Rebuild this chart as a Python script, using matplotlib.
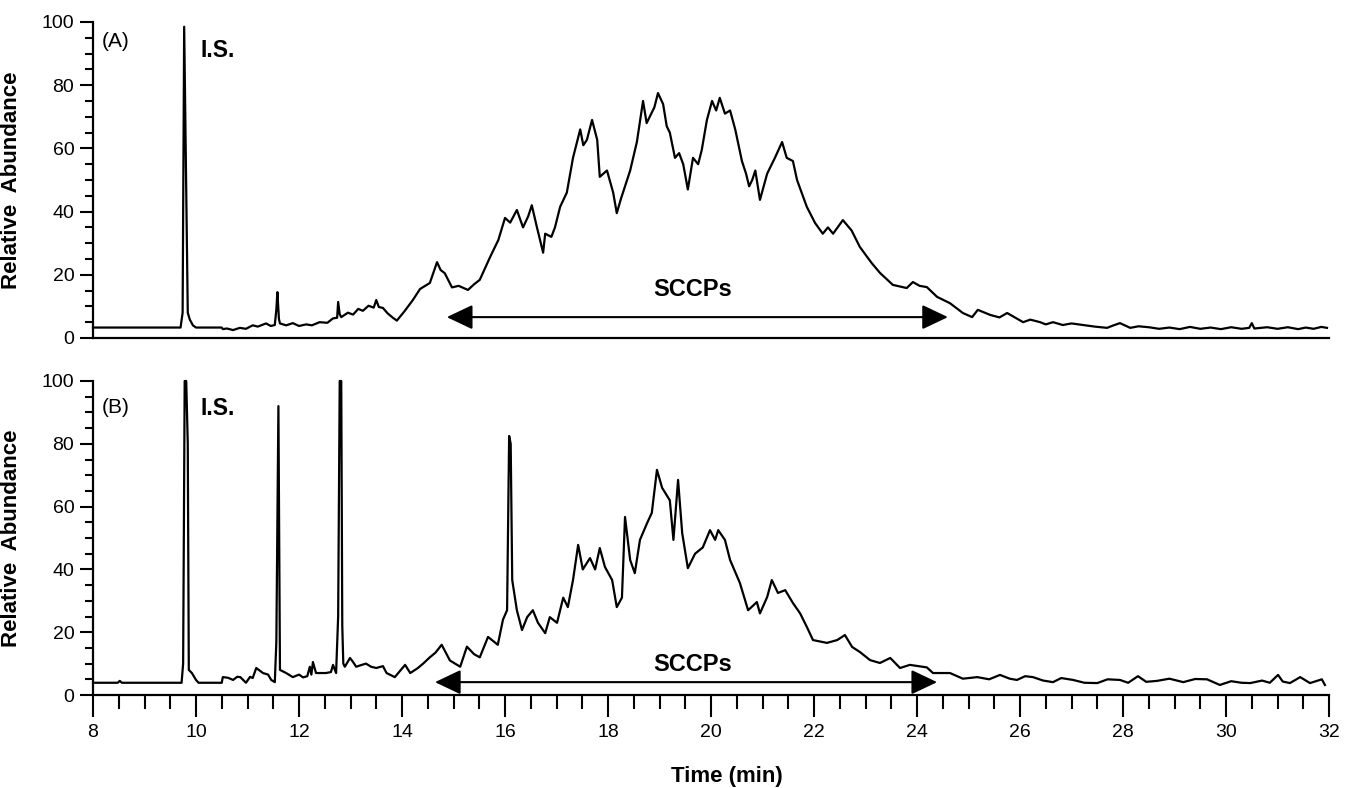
import matplotlib
matplotlib.use("Agg")
import matplotlib.pyplot as plt
from matplotlib.ticker import MultipleLocator

plt.rcParams["font.family"] = ["Liberation Sans", "DejaVu Sans"]

# ---- trace (A): retention time (min) / relative abundance ------------------
time_a = [
    8.0, 9.70, 9.74, 9.77, 9.80, 9.84, 9.88, 9.94, 10.0, 10.5,
    10.52, 10.6, 10.72, 10.85, 10.97, 11.1, 11.2, 11.36, 11.45, 11.53,
    11.56, 11.58, 11.61, 11.63, 11.75, 11.88, 12.0, 12.14, 12.25, 12.4,
    12.55, 12.66, 12.74, 12.76, 12.79, 12.82, 12.95, 13.05, 13.15, 13.24,
    13.35, 13.45, 13.50, 13.55, 13.63, 13.72, 13.83, 13.90, 14.05, 14.21,
    14.35, 14.54, 14.68, 14.75, 14.83, 14.97, 15.1, 15.28, 15.4, 15.51,
    15.71, 15.87, 16.0, 16.1, 16.23, 16.35, 16.45, 16.52, 16.62, 16.74,
    16.78, 16.9, 16.97, 17.07, 17.2, 17.32, 17.46, 17.52, 17.59, 17.69,
    17.79, 17.84, 17.98, 18.1, 18.17, 18.25, 18.33, 18.43, 18.56, 18.68,
    18.75, 18.81, 18.9, 18.97, 19.07, 19.14, 19.2, 19.3, 19.38, 19.46,
    19.55, 19.65, 19.75, 19.82, 19.92, 20.02, 20.1, 20.17, 20.27, 20.37,
    20.47, 20.6, 20.68, 20.74, 20.8, 20.86, 20.95, 21.09, 21.24, 21.38,
    21.47, 21.59, 21.67, 21.86, 22.02, 22.17, 22.27, 22.37, 22.56, 22.73,
    22.89, 23.12, 23.28, 23.53, 23.8, 23.92, 24.05, 24.19, 24.39, 24.64,
    24.89, 25.07, 25.18, 25.42, 25.6, 25.75, 26.06, 26.2, 26.39, 26.5,
    26.64, 26.83, 27.0, 27.22, 27.45, 27.69, 27.8, 27.94, 28.14, 28.3,
    28.5, 28.7, 28.9, 29.1, 29.3, 29.5, 29.7, 29.9, 30.1, 30.3,
    30.45, 30.5, 30.55, 30.8, 31.0, 31.2, 31.4, 31.55, 31.7, 31.85,
    31.96,
]
abund_a = [
    3.3, 3.3, 8.0, 98.5, 60.0, 8.0, 5.8, 4.0, 3.3, 3.3,
    2.8, 3.0, 2.5, 3.2, 2.9, 4.0, 3.6, 4.6, 3.8, 4.1,
    9.0, 14.5, 6.0, 4.6, 4.0, 4.7, 3.8, 4.3, 4.0, 5.0,
    4.8, 6.2, 6.4, 11.4, 7.5, 6.6, 8.0, 7.4, 9.2, 8.6,
    10.2, 9.6, 12.0, 9.8, 9.5, 7.8, 6.3, 5.5, 8.5, 12.0,
    15.5, 17.4, 24.0, 21.5, 20.5, 16.0, 16.5, 15.2, 17.0, 18.4,
    25.6, 31.0, 38.0, 36.5, 40.5, 35.0, 38.5, 42.0, 35.0, 27.0,
    33.0, 32.0, 35.0, 41.5, 46.0, 57.0, 66.0, 61.0, 62.7, 69.0,
    62.7, 51.0, 53.0, 46.0, 39.5, 44.0, 48.0, 53.0, 62.0, 75.0,
    68.0, 70.0, 73.0, 77.5, 74.0, 67.0, 65.0, 57.0, 58.5, 55.0,
    47.0, 57.0, 55.0, 59.5, 69.0, 75.0, 72.0, 76.0, 71.0, 72.0,
    66.0, 56.0, 52.0, 48.0, 50.0, 53.0, 43.7, 52.0, 57.0, 62.0,
    57.0, 56.0, 50.0, 41.5, 36.4, 33.0, 35.0, 33.0, 37.3, 34.0,
    28.8, 23.7, 20.6, 16.8, 15.8, 17.7, 16.5, 16.1, 13.0, 11.0,
    7.9, 6.6, 8.9, 7.3, 6.5, 7.9, 5.0, 5.8, 5.0, 4.3,
    5.0, 4.1, 4.6, 4.1, 3.6, 3.2, 3.9, 4.7, 3.2, 3.7,
    3.4, 2.9, 3.3, 2.8, 3.5, 2.9, 3.3, 2.8, 3.4, 2.9,
    3.2, 4.7, 3.0, 3.4, 2.9, 3.4, 2.8, 3.3, 2.9, 3.5,
    3.2,
]

# ---- trace (B) -------------------------------------------------------------
time_b = [
    8.0, 8.48, 8.52, 8.56, 9.72, 9.75, 9.78, 9.81, 9.84, 9.86,
    9.92, 10.0, 10.05, 10.5, 10.52, 10.62, 10.72, 10.8, 10.86, 10.97,
    11.05, 11.1, 11.17, 11.3, 11.4, 11.46, 11.53, 11.56, 11.6, 11.63,
    11.75, 11.88, 12.0, 12.08, 12.16, 12.21, 12.24, 12.27, 12.33, 12.52,
    12.62, 12.66, 12.72, 12.76, 12.79, 12.82, 12.84, 12.86, 12.89, 12.99,
    13.05, 13.11, 13.2, 13.3, 13.4, 13.5, 13.63, 13.7, 13.86, 14.06,
    14.16, 14.3, 14.41, 14.54, 14.65, 14.77, 14.93, 15.13, 15.26, 15.4,
    15.51, 15.67, 15.86, 15.96, 16.04, 16.08, 16.11, 16.14, 16.23, 16.33,
    16.43, 16.54, 16.64, 16.78, 16.87, 17.01, 17.13, 17.22, 17.32, 17.42,
    17.51, 17.65, 17.75, 17.84, 17.94, 18.08, 18.17, 18.27, 18.33, 18.43,
    18.52, 18.62, 18.76, 18.85, 18.95, 19.05, 19.2, 19.27, 19.36, 19.44,
    19.55, 19.69, 19.84, 19.98, 20.08, 20.14, 20.27, 20.37, 20.56, 20.72,
    20.89, 20.95, 21.09, 21.18, 21.3, 21.44, 21.59, 21.73, 21.86, 21.98,
    22.25, 22.45, 22.6, 22.74, 22.89, 23.09, 23.28, 23.48, 23.67, 23.86,
    24.19, 24.31, 24.64, 24.89, 25.17, 25.4, 25.61, 25.8, 25.94, 26.1,
    26.25, 26.45, 26.64, 26.8, 27.03, 27.25, 27.5, 27.7, 27.94, 28.1,
    28.29, 28.45, 28.66, 28.9, 29.17, 29.4, 29.63, 29.88, 30.1, 30.3,
    30.47, 30.7, 30.85, 31.01, 31.1, 31.24, 31.44, 31.63, 31.86, 31.92,
]
abund_b = [
    3.9, 3.9, 4.5, 3.9, 3.9, 10.0, 100.0, 100.0, 80.0, 8.0,
    7.0, 4.8, 3.9, 3.9, 5.7, 5.5, 4.8, 5.8, 5.7, 3.9,
    5.8, 5.4, 8.6, 7.0, 6.5, 4.8, 4.1, 17.0, 92.0, 8.0,
    7.0, 5.7, 6.5, 5.6, 6.0, 9.0, 6.5, 10.5, 7.0, 7.0,
    7.3, 9.6, 7.0, 25.0, 100.0, 100.0, 22.0, 10.0, 9.0, 11.8,
    10.5, 9.0, 9.5, 10.0, 9.0, 8.6, 9.2, 7.0, 5.7, 9.6,
    7.0, 8.5, 10.0, 12.0, 13.5, 16.0, 11.0, 9.0, 15.4, 13.0,
    12.0, 18.5, 16.0, 24.0, 27.0, 82.5, 80.0, 36.6, 27.0, 20.7,
    24.8, 27.0, 23.0, 19.7, 24.8, 23.0, 31.0, 28.0, 36.6, 47.8,
    40.0, 43.6, 40.0, 46.8, 40.8, 36.6, 28.0, 31.0, 56.7, 43.0,
    38.8, 49.4, 54.8, 58.0, 71.7, 66.0, 62.0, 49.4, 68.5, 51.6,
    40.4, 45.0, 47.0, 52.5, 49.4, 52.5, 49.4, 43.0, 35.7, 27.0,
    29.6, 26.0, 31.2, 36.6, 32.5, 33.4, 29.3, 26.0, 21.7, 17.5,
    16.6, 17.5, 19.1, 15.3, 13.7, 11.1, 10.2, 11.8, 8.6, 9.6,
    8.8, 7.0, 7.0, 5.2, 5.7, 5.0, 6.4, 5.2, 4.8, 6.0,
    5.7, 4.6, 4.1, 5.4, 4.8, 3.9, 3.8, 5.0, 4.8, 3.9,
    6.0, 4.2, 4.5, 5.2, 4.1, 5.1, 5.0, 3.2, 4.4, 3.9,
    3.8, 4.6, 3.9, 6.4, 4.3, 3.8, 5.7, 3.8, 5.0, 3.2,
]

panel_labels = ["(A)", "(B)"]
sccp_range_a = (14.87, 24.6)
sccp_range_b = (14.64, 24.39)

fig = plt.figure(figsize=(13.46, 7.88), dpi=100)
ax_a = fig.add_axes([0.0691, 0.5711, 0.9183, 0.4010])
ax_b = fig.add_axes([0.0691, 0.1180, 0.9183, 0.3985])


def style_axis(ax, show_x):
    ax.set_xlim(8, 32)
    ax.set_ylim(0, 100)
    for side in ("top", "right"):
        ax.spines[side].set_visible(False)
    for side in ("left", "bottom"):
        ax.spines[side].set_linewidth(1.6)
    ax.yaxis.set_major_locator(MultipleLocator(20))
    ax.yaxis.set_minor_locator(MultipleLocator(5))
    ax.tick_params(axis="y", which="major", length=9.5, width=1.5,
                   labelsize=14, pad=4)
    ax.tick_params(axis="y", which="minor", length=6, width=1.5)
    ax.set_ylabel("Relative  Abundance", fontsize=16, fontweight="bold")
    ax.yaxis.set_label_coords(-0.0574, 0.5)
    if show_x:
        ax.xaxis.set_major_locator(MultipleLocator(2))
        ax.xaxis.set_minor_locator(MultipleLocator(0.5))
        ax.tick_params(axis="x", which="major", length=16, width=1.5,
                       labelsize=14, pad=5)
        ax.tick_params(axis="x", which="minor", length=10, width=1.5)
        ax.set_xlabel("Time (min)", fontsize=16, fontweight="bold")
        ax.xaxis.set_label_coords(0.513, -0.225)
    else:
        ax.set_xticks([])


def sccp_arrow(ax, span, y_arrow, y_text):
    ax.annotate("", xy=(span[0], y_arrow), xytext=(span[1], y_arrow),
                arrowprops=dict(arrowstyle="<|-|>,head_length=0.8,head_width=0.38",
                                mutation_scale=20, lw=1.5, color="black",
                                shrinkA=0, shrinkB=0))
    ax.text(19.65, y_text, "SCCPs", fontsize=17, fontweight="bold",
            ha="center", va="center")


ax_a.plot(time_a, abund_a, color="black", lw=1.6, clip_on=False)
ax_b.plot(time_b, abund_b, color="black", lw=1.6, clip_on=False)

style_axis(ax_a, show_x=False)
style_axis(ax_b, show_x=True)

ax_a.text(8.17, 93.7, panel_labels[0], fontsize=15, ha="left", va="center")
ax_b.text(8.17, 91.7, panel_labels[1], fontsize=15, ha="left", va="center")
ax_a.text(10.08, 91.1, "I.S.", fontsize=16.5, fontweight="bold", ha="left", va="center")
ax_b.text(10.08, 91.4, "I.S.", fontsize=16.5, fontweight="bold", ha="left", va="center")

sccp_arrow(ax_a, sccp_range_a, 6.6, 15.2)
sccp_arrow(ax_b, sccp_range_b, 4.1, 9.6)

fig.savefig("out.png", dpi=100)
